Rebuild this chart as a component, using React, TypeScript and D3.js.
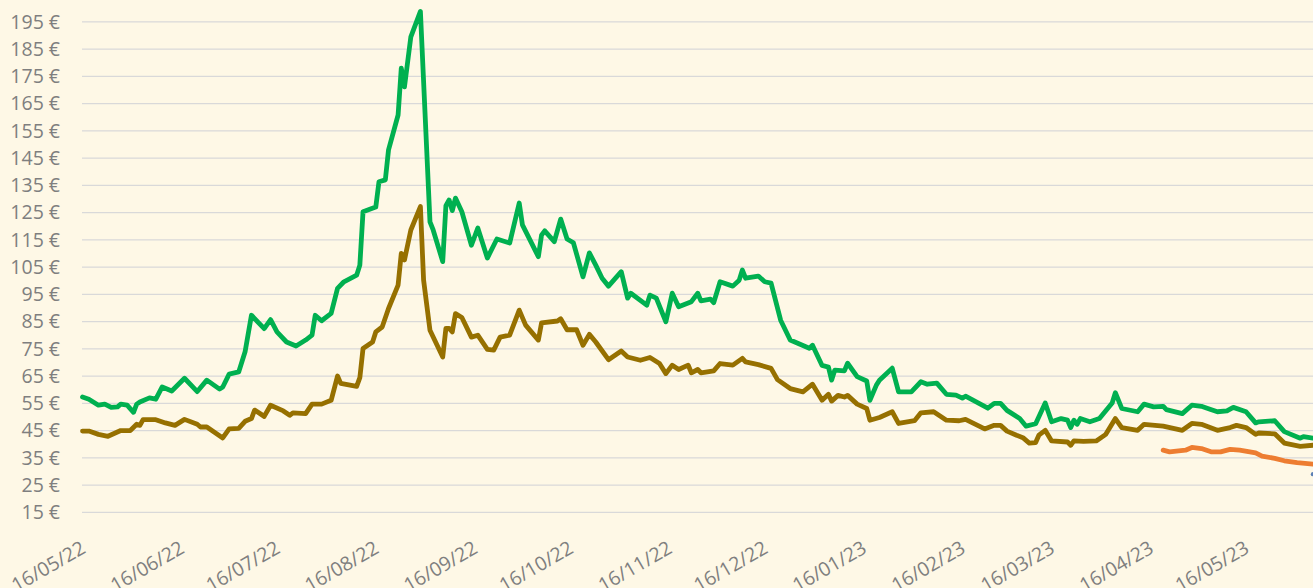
import React, { useEffect, useRef } from 'react';
import * as d3 from 'd3';

// tick values / labels
const yTicks = [15, 25, 35, 45, 55, 65, 75, 85, 95, 105, 115, 125, 135, 145, 155, 165, 175, 185, 195];
const xTickLabels = [
  '16/05/22', '16/06/22', '16/07/22', '16/08/22', '16/09/22', '16/10/22', '16/11/22',
  '16/12/22', '16/01/23', '16/02/23', '16/03/23', '16/04/23', '16/05/23',
];
const xDomain = ['16/05/22', '06/06/23'];

// price series, [date, €]
const greenSeries: [string, number][] = [
  ['16/05/22', 57.3], ['18/05/22', 56.5], ['21/05/22', 54.3], ['23/05/22', 54.7], ['25/05/22', 53.5],
  ['27/05/22', 53.7], ['28/05/22', 54.7], ['30/05/22', 54.3], ['01/06/22', 51.7], ['02/06/22', 54.7],
  ['03/06/22', 55.5], ['06/06/22', 57], ['08/06/22', 56.5], ['10/06/22', 61], ['13/06/22', 59.5],
  ['17/06/22', 64.2], ['21/06/22', 59.3], ['24/06/22', 63.5], ['28/06/22', 60.2], ['29/06/22', 61],
  ['01/07/22', 65.7], ['04/07/22', 66.5], ['06/07/22', 73.9], ['08/07/22', 87.3], ['12/07/22', 82.4],
  ['14/07/22', 85.7], ['16/07/22', 81.2], ['19/07/22', 77.5], ['22/07/22', 76], ['25/07/22', 78.2],
  ['27/07/22', 80], ['28/07/22', 87.3], ['30/07/22', 85.3], ['02/08/22', 88], ['04/08/22', 97.2],
  ['06/08/22', 99.6], ['10/08/22', 102], ['11/08/22', 105.7], ['12/08/22', 125.3], ['16/08/22', 127],
  ['17/08/22', 136.3], ['19/08/22', 137], ['20/08/22', 148], ['23/08/22', 160.8], ['24/08/22', 178],
  ['25/08/22', 171.1], ['27/08/22', 189.5], ['30/08/22', 198.8], ['02/09/22', 121.6], ['03/09/22', 118.6],
  ['06/09/22', 107], ['07/09/22', 127.5], ['08/09/22', 129.6], ['09/09/22', 125.7], ['10/09/22', 130.3],
  ['12/09/22', 125.3], ['15/09/22', 113], ['17/09/22', 119.3], ['20/09/22', 108.3], ['23/09/22', 115.3],
  ['27/09/22', 113.8], ['30/09/22', 128.5], ['01/10/22', 120.5], ['06/10/22', 108.8], ['07/10/22', 116.7],
  ['08/10/22', 118.3], ['11/10/22', 114.3], ['13/10/22', 122.6], ['15/10/22', 115.3], ['17/10/22', 113.9],
  ['20/10/22', 101.4], ['22/10/22', 110.2], ['24/10/22', 105.7], ['26/10/22', 100.9], ['28/10/22', 98],
  ['01/11/22', 103.3], ['03/11/22', 93.6], ['04/11/22', 95.4], ['09/11/22', 91], ['10/11/22', 94.7],
  ['12/11/22', 93.6], ['15/11/22', 84.9], ['17/11/22', 95.4], ['19/11/22', 90.4], ['23/11/22', 92.3],
  ['25/11/22', 95.4], ['26/11/22', 92.6], ['29/11/22', 93.2], ['30/11/22', 91.9], ['02/12/22', 99.6],
  ['06/12/22', 98], ['08/12/22', 100.2], ['09/12/22', 103.9], ['10/12/22', 100.9], ['14/12/22', 101.7],
  ['16/12/22', 99.6], ['18/12/22', 99.1], ['21/12/22', 85.5], ['24/12/22', 78.2], ['30/12/22', 75.2],
  ['31/12/22', 76.3], ['03/01/23', 68.9], ['05/01/23', 68.3], ['06/01/23', 63.5], ['07/01/23', 67.2],
  ['10/01/23', 66.9], ['11/01/23', 69.7], ['14/01/23', 64.8], ['17/01/23', 63.2], ['18/01/23', 56.1],
  ['20/01/23', 61.6], ['21/01/23', 63.5], ['25/01/23', 67.9], ['27/01/23', 59.2], ['31/01/23', 59.2],
  ['03/02/23', 62.9], ['05/02/23', 62], ['08/02/23', 62.4], ['11/02/23', 58.3], ['14/02/23', 58],
  ['16/02/23', 56.9], ['17/02/23', 57.6], ['24/02/23', 53.2], ['26/02/23', 55], ['28/02/23', 55],
  ['02/03/23', 52.4], ['06/03/23', 49.4], ['08/03/23', 46.6], ['11/03/23', 47.5], ['14/03/23', 55.1],
  ['16/03/23', 48.2], ['19/03/23', 49.4], ['21/03/23', 48.8], ['22/03/23', 46.1], ['23/03/23', 48.8],
  ['24/03/23', 47.3], ['25/03/23', 49.4], ['28/03/23', 48.2], ['31/03/23', 49.4], ['04/04/23', 55.1],
  ['05/04/23', 58.9], ['07/04/23', 53.1], ['12/04/23', 51.9], ['14/04/23', 54.7], ['17/04/23', 53.7],
  ['20/04/23', 53.9], ['21/04/23', 52.7], ['26/04/23', 51.2], ['29/04/23', 54.3], ['02/05/23', 53.9],
  ['04/05/23', 53.1], ['07/05/23', 51.9], ['10/05/23', 52.2], ['12/05/23', 53.5], ['16/05/23', 51.9],
  ['19/05/23', 47.8], ['20/05/23', 48.2], ['25/05/23', 48.6], ['28/05/23', 44.6], ['02/06/23', 42.2],
  ['03/06/23', 42.8], ['06/06/23', 42.2],
];

const brownSeries: [string, number][] = [
  ['16/05/22', 44.8], ['18/05/22', 44.8], ['21/05/22', 43.6], ['24/05/22', 42.9], ['28/05/22', 45],
  ['31/05/22', 45], ['02/06/22', 47.3], ['03/06/22', 46.9], ['04/06/22', 49], ['08/06/22', 49],
  ['11/06/22', 47.8], ['14/06/22', 46.9], ['17/06/22', 49.1], ['21/06/22', 47.3], ['22/06/22', 46.3],
  ['24/06/22', 46.3], ['29/06/22', 42.3], ['01/07/22', 45.6], ['04/07/22', 45.8], ['06/07/22', 48.4],
  ['08/07/22', 49.4], ['09/07/22', 52.5], ['12/07/22', 50.2], ['14/07/22', 54.3], ['18/07/22', 52.2],
  ['20/07/22', 50.6], ['21/07/22', 51.5], ['25/07/22', 51.2], ['27/07/22', 54.7], ['30/07/22', 54.7],
  ['02/08/22', 56.1], ['04/08/22', 65], ['05/08/22', 62.3], ['10/08/22', 61.2], ['11/08/22', 64.4],
  ['12/08/22', 75.1], ['15/08/22', 77.5], ['16/08/22', 81.2], ['18/08/22', 83], ['20/08/22', 89.8],
  ['23/08/22', 98.4], ['24/08/22', 110], ['25/08/22', 107.6], ['27/08/22', 118.6], ['30/08/22', 127.2],
  ['31/08/22', 100.2], ['02/09/22', 81.8], ['06/09/22', 72], ['07/09/22', 82.5], ['08/09/22', 82.5],
  ['09/09/22', 81.2], ['10/09/22', 87.9], ['12/09/22', 86.5], ['15/09/22', 79.3], ['17/09/22', 80],
  ['20/09/22', 74.8], ['22/09/22', 74.5], ['24/09/22', 79.3], ['27/09/22', 80], ['30/09/22', 89.2],
  ['02/10/22', 83.7], ['06/10/22', 78.2], ['07/10/22', 84.5], ['12/10/22', 85.2], ['13/10/22', 86],
  ['15/10/22', 82], ['18/10/22', 82], ['20/10/22', 76.3], ['22/10/22', 80.3], ['24/10/22', 77.5],
  ['28/10/22', 71], ['01/11/22', 74.2], ['03/11/22', 72], ['07/11/22', 70.8], ['10/11/22', 71.8],
  ['13/11/22', 69.6], ['15/11/22', 65.9], ['17/11/22', 69], ['19/11/22', 67.4], ['22/11/22', 69],
  ['23/11/22', 66.2], ['25/11/22', 67.4], ['26/11/22', 66.2], ['30/11/22', 66.9], ['02/12/22', 69.6],
  ['06/12/22', 69], ['09/12/22', 71.5], ['10/12/22', 70.2], ['14/12/22', 69.2], ['18/12/22', 67.8],
  ['20/12/22', 63.7], ['24/12/22', 60.4], ['28/12/22', 59.2], ['31/12/22', 62], ['03/01/23', 56.1],
  ['05/01/23', 58.3], ['06/01/23', 55.8], ['08/01/23', 57.9], ['10/01/23', 57.3], ['11/01/23', 57.9],
  ['14/01/23', 54.7], ['17/01/23', 53.1], ['18/01/23', 48.8], ['21/01/23', 49.8], ['25/01/23', 51.9],
  ['27/01/23', 47.6], ['01/02/23', 48.6], ['03/02/23', 51.5], ['07/02/23', 51.9], ['11/02/23', 48.8],
  ['15/02/23', 48.6], ['17/02/23', 49.1], ['23/02/23', 45.6], ['26/02/23', 46.9], ['28/02/23', 46.9],
  ['02/03/23', 44.8], ['05/03/23', 43.3], ['07/03/23', 42.4], ['09/03/23', 40.4], ['11/03/23', 40.6],
  ['12/03/23', 43.3], ['14/03/23', 45.1], ['16/03/23', 41.2], ['21/03/23', 40.8], ['22/03/23', 39.6],
  ['23/03/23', 41.2], ['26/03/23', 41], ['30/03/23', 41.2], ['02/04/23', 43.6], ['05/04/23', 49.4],
  ['07/04/23', 46.1], ['12/04/23', 45.1], ['14/04/23', 47.3], ['20/04/23', 46.6], ['26/04/23', 45.1],
  ['29/04/23', 47.6], ['02/05/23', 47.3], ['07/05/23', 45.1], ['11/05/23', 46.1], ['13/05/23', 46.9],
  ['16/05/23', 46.1], ['19/05/23', 43.6], ['20/05/23', 44.1], ['25/05/23', 43.8], ['28/05/23', 40.4],
  ['02/06/23', 39.2], ['06/06/23', 39.6],
];

const orangeSeries: [string, number][] = [
  ['20/04/23', 37.8], ['22/04/23', 37.2], ['27/04/23', 37.8], ['29/04/23', 38.8], ['02/05/23', 38.4],
  ['05/05/23', 37.2], ['08/05/23', 37.2], ['11/05/23', 38.1], ['14/05/23', 37.8], ['19/05/23', 36.8],
  ['21/05/23', 35.6], ['25/05/23', 34.8], ['28/05/23', 33.9], ['01/06/23', 33.2], ['06/06/23', 32.7],
];

// only the last day is visible for this one
const blueSeries: [string, number][] = [
  ['06/06/23', 29],
];

const WIDTH = 1313;
const HEIGHT = 588;

const App = () => {
  const ref = useRef<SVGSVGElement | null>(null);

  useEffect(() => {
    if (!ref.current) return;
    const svg = d3.select(ref.current);
    svg.selectAll('*').remove();

    const parse = d3.timeParse('%d/%m/%y');
    const plotLeft = 82;

    const x = d3.scaleTime()
      .domain(xDomain.map(d => parse(d) as Date))
      .range([82.5, 1313]);
    const y = d3.scaleLinear().domain([15, 195]).range([512.3, 21.8]);

    svg.append('rect')
      .attr('width', WIDTH)
      .attr('height', HEIGHT)
      .attr('fill', '#fef8e6');

    // horizontal gridlines
    svg.append('g')
      .selectAll('line')
      .data(yTicks)
      .join('line')
      .attr('x1', plotLeft)
      .attr('x2', WIDTH)
      .attr('y1', d => y(d))
      .attr('y2', d => y(d))
      .attr('stroke', '#d9d9d9')
      .attr('stroke-width', 1.3);

    const labelStyle = (sel: d3.Selection<any, any, any, any>) => sel
      .attr('fill', '#7f7f7f')
      .attr('font-family', '"Open Sans", sans-serif')
      .attr('font-size', 19.5);

    // y axis labels
    svg.append('g')
      .selectAll('text')
      .data(yTicks)
      .join('text')
      .attr('x', 60)
      .attr('y', d => y(d))
      .attr('dy', '0.35em')
      .attr('text-anchor', 'end')
      .call(labelStyle)
      .text(d => `${d} €`);

    // x axis labels, rotated (the bottom of them runs off the page, as in the original)
    svg.append('g')
      .selectAll('text')
      .data(xTickLabels)
      .join('text')
      .attr('transform', d => `translate(${x(parse(d) as Date) + 1},546) rotate(-30)`)
      .attr('dy', '0.35em')
      .attr('text-anchor', 'end')
      .call(labelStyle)
      .text(d => d);

    const line = d3.line<[string, number]>()
      .x(d => x(parse(d[0]) as Date))
      .y(d => y(d[1]));

    const series: [[string, number][], string][] = [
      [greenSeries, '#00b050'],
      [brownSeries, '#967000'],
      [orangeSeries, '#ed7d31'],
    ];

    svg.append('g')
      .selectAll('path')
      .data(series)
      .join('path')
      .attr('d', d => line(d[0]))
      .attr('fill', 'none')
      .attr('stroke', d => d[1])
      .attr('stroke-width', 4.8)
      .attr('stroke-linejoin', 'round')
      .attr('stroke-linecap', 'round');

    svg.append('g')
      .selectAll('circle')
      .data(blueSeries)
      .join('circle')
      .attr('cx', d => x(parse(d[0]) as Date))
      .attr('cy', d => y(d[1]))
      .attr('r', 2.2)
      .attr('fill', '#5b7fb5');
  }, []);

  return (
    <div style={{ position: 'absolute', left: 0, top: 0, width: WIDTH, height: HEIGHT, overflow: 'hidden' }}>
      <svg ref={ref} width={WIDTH} height={HEIGHT} style={{ display: 'block' }}></svg>
    </div>
  );
};

export default App;
